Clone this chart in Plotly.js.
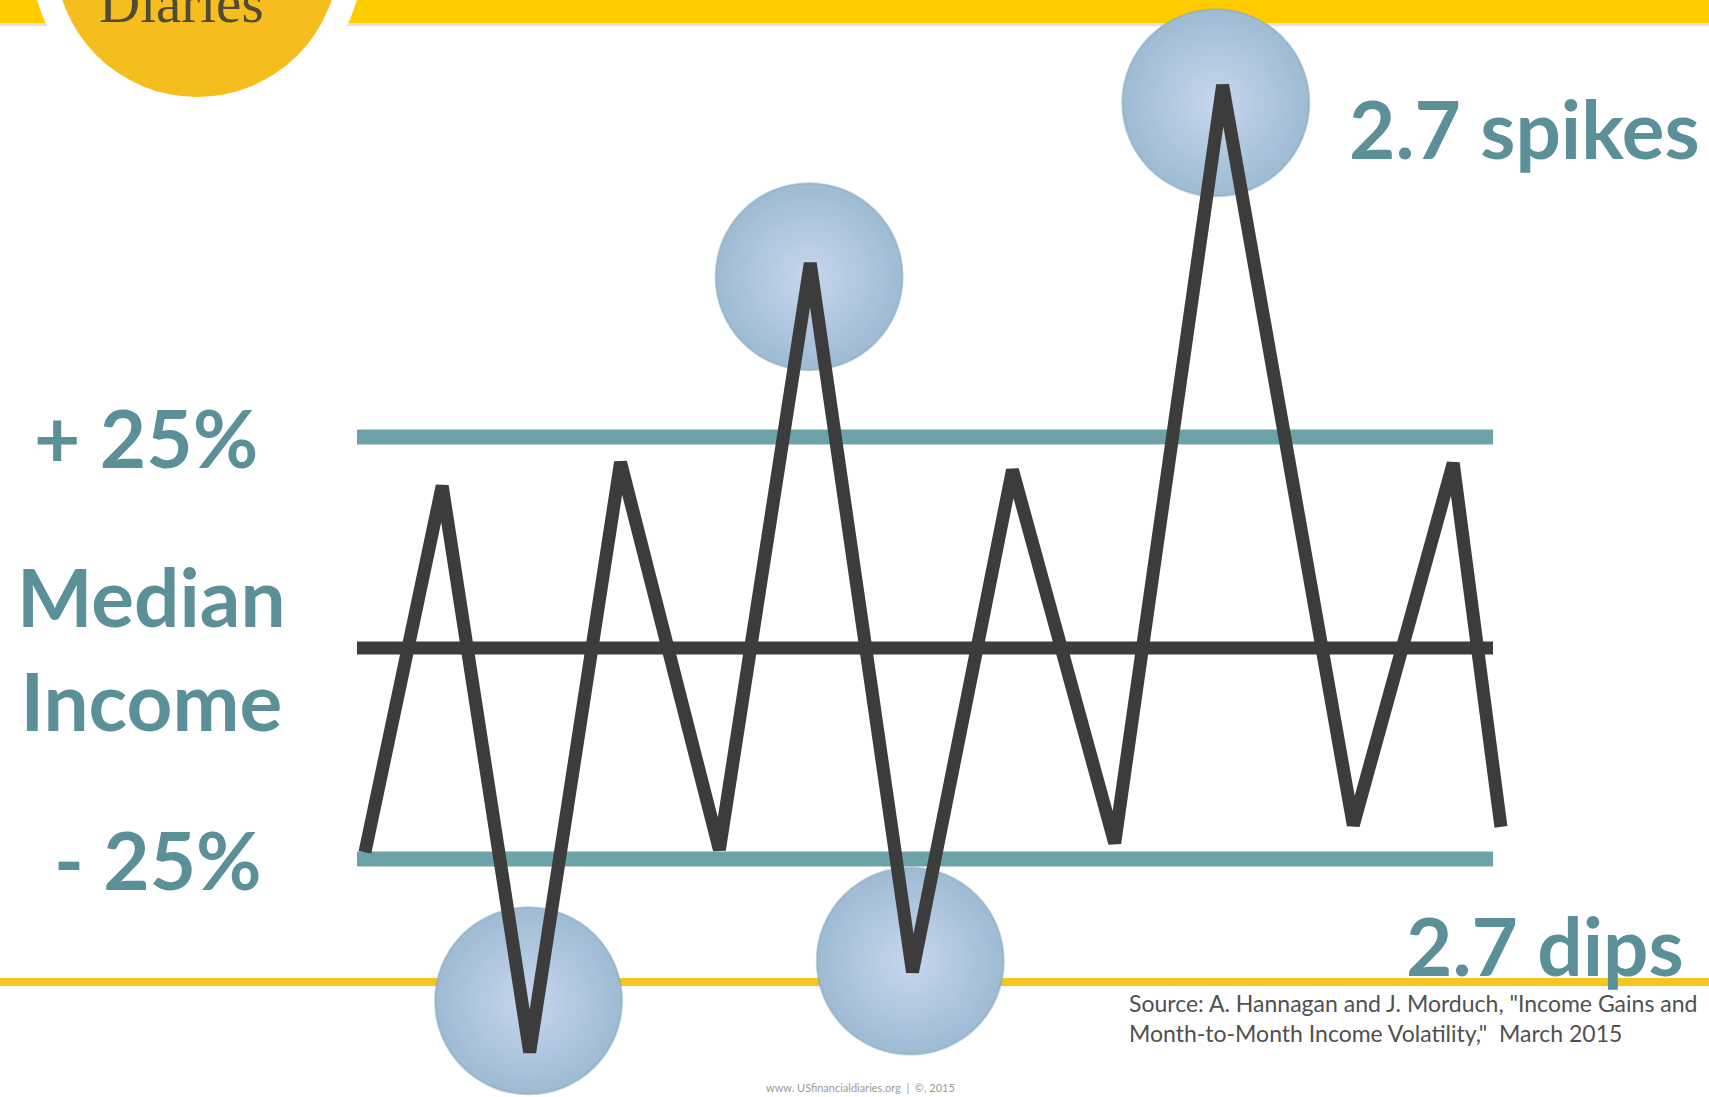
<!DOCTYPE html>
<html>
<head>
<meta charset="utf-8">
<script src="https://cdn.plot.ly/plotly-3.0.1.min.js"></script>
<style>
  html, body { margin: 0; padding: 0; background: #ffffff; }
  #chart { width: 1709px; height: 1097px; }
</style>
</head>
<body>
<div id="chart"></div>
<script>
// ---- data ----
// horizontal position along the period (0..100), income relative to median (%)
const waveX = [0.7, 7.5, 15.2, 23.2, 31.9, 39.9, 48.9, 57.7, 66.7, 76.2, 87.7, 96.5, 100.7];
const waveY = [-24.2, 19.2, -47.9, 22.0, -23.9, 45.6, -38.4, 21.1, -23.1, 66.7, -21.0, 21.9, -21.2];

const bandX = [0, 100];
const bandLevels = [25, 0, -25];
const levelLabels = ['+ 25%', 'Median<br>Income', '- 25%'];

const highlightX = [15.1, 39.8, 48.7, 75.6];
const highlightY = [-41.8, 44.0, -37.1, 64.6];

const spikesPerYear = 2.7;
const dipsPerYear = 2.7;

const sourceLines = [
  'Source: A. Hannagan and J. Morduch, "Income Gains and',
  'Month-to-Month Income Volatility,"  March 2015'
];
const footerText = 'www. USfinancialdiaries.org  |  ©, 2015';
const logoText = 'Diaries';

// ---- layout helpers ----
const W = 1709, H = 1097;
const px = v => v / W;          // horizontal pixel -> paper
const py = v => 1 - v / H;      // vertical pixel -> paper

const TEAL = '#6ea2a9';
const TEAL_TEXT = '#5b9098';
const DARK = '#3c3c3c';
const YELLOW = '#ffcc00';

const traces = [];

// highlight circles
traces.push({
  type: 'scatter', mode: 'markers',
  x: highlightX, y: highlightY,
  marker: {
    size: 187,
    color: '#9dbbd3',
    gradient: { type: 'radial', color: '#c7d6ee' },
    line: { width: 2, color: 'rgba(130,165,190,0.5)' }
  },
  hoverinfo: 'skip', showlegend: false
});

// reference levels (+25%, median, -25%)
bandLevels.forEach(function (lvl) {
  traces.push({
    type: 'scatter', mode: 'lines',
    x: bandX, y: [lvl, lvl],
    line: { color: lvl === 0 ? DARK : TEAL, width: lvl === 0 ? 13 : 15 },
    hoverinfo: 'skip', showlegend: false
  });
});

// income path
traces.push({
  type: 'scatter', mode: 'lines',
  x: waveX, y: waveY,
  line: { color: DARK, width: 13 },
  hoverinfo: 'skip', showlegend: false
});

const annotations = [];
const labelFont = { family: 'Lato, sans-serif', size: 80, color: TEAL_TEXT, weight: 700 };
const labelCenters = [146, 151, 158];

levelLabels.forEach(function (t, i) {
  annotations.push({
    text: '<b>' + t + '</b>', xref: 'paper', x: px(labelCenters[i]), yref: 'y', y: bandLevels[i],
    xanchor: 'center', yanchor: 'middle', showarrow: false, align: 'center',
    font: labelFont
  });
});

annotations.push({
  text: '<b>' + spikesPerYear + ' spikes</b>', xref: 'paper', yref: 'paper',
  x: px(1347), y: py(128), xanchor: 'left', yanchor: 'middle', showarrow: false,
  font: labelFont
});
annotations.push({
  text: '<b>' + dipsPerYear + ' dips</b>', xref: 'paper', yref: 'paper',
  x: px(1404), y: py(945), xanchor: 'left', yanchor: 'middle', showarrow: false,
  font: labelFont
});

annotations.push({
  text: sourceLines.join('<br>'), xref: 'paper', yref: 'paper',
  x: px(1127), y: py(1018), xanchor: 'left', yanchor: 'middle', align: 'left',
  showarrow: false,
  font: { family: 'Lato, sans-serif', size: 23, color: '#505050' }
});
annotations.push({
  text: footerText, xref: 'paper', yref: 'paper',
  x: px(860), y: py(1087), xanchor: 'center', yanchor: 'middle', showarrow: false,
  font: { family: 'Lato, sans-serif', size: 11, color: '#9a9a9a' }
});
annotations.push({
  text: logoText, xref: 'paper', yref: 'paper',
  x: px(181), y: py(3), xanchor: 'center', yanchor: 'middle', showarrow: false,
  font: { family: 'Liberation Serif, serif', size: 57, color: '#4f4b36' }
});

const shapes = [
  // top band + shadow
  { type: 'rect', xref: 'paper', yref: 'paper', x0: 0, x1: 1, y0: py(26), y1: py(23),
    fillcolor: 'rgba(0,0,0,0.12)', line: { width: 0 }, layer: 'below' },
  { type: 'rect', xref: 'paper', yref: 'paper', x0: 0, x1: 1, y0: py(23), y1: 1,
    fillcolor: YELLOW, line: { width: 0 }, layer: 'below' },
  // bottom rule
  { type: 'rect', xref: 'paper', yref: 'paper', x0: 0, x1: 1, y0: py(986), y1: py(978),
    fillcolor: '#f8c51c', line: { width: 0 }, layer: 'below' },
  // logo: white ring + yellow disc
  { type: 'circle', xref: 'paper', yref: 'paper',
    x0: px(197 - 166), x1: px(197 + 166), y0: py(-45 + 166), y1: py(-45 - 166),
    fillcolor: '#ffffff', line: { width: 0 }, layer: 'above' },
  { type: 'circle', xref: 'paper', yref: 'paper',
    x0: px(197 - 142), x1: px(197 + 142), y0: py(-45 + 142), y1: py(-45 - 142),
    fillcolor: '#f6bd1e', line: { width: 0 }, layer: 'above' }
];

// axis: x 0..100 spans px 357..1493 ; y 0 at px 648, 8.44 px per %
const xScale = 11.36, yScale = 8.44, x0px = 357, y0px = 648;

const layout = {
  width: W, height: H,
  margin: { l: 0, r: 0, t: 0, b: 0, pad: 0 },
  paper_bgcolor: '#ffffff', plot_bgcolor: 'rgba(0,0,0,0)',
  showlegend: false,
  xaxis: { range: [-x0px / xScale, (W - x0px) / xScale], visible: false, fixedrange: true },
  yaxis: { range: [-(H - y0px) / yScale, y0px / yScale], visible: false, fixedrange: true },
  annotations: annotations,
  shapes: shapes
};

Plotly.newPlot('chart', traces, layout, { staticPlot: true, displayModeBar: false });
</script>
</body>
</html>
